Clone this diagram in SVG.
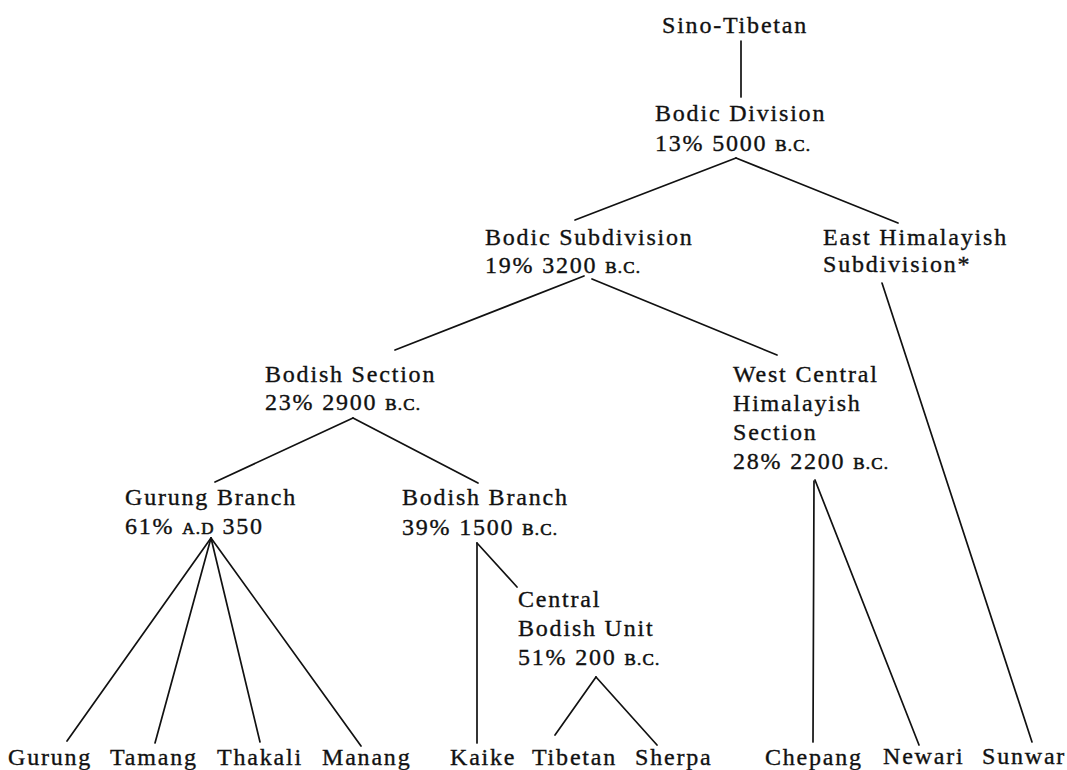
<svg xmlns="http://www.w3.org/2000/svg" width="1067" height="770" viewBox="0 0 1067 770">
<style>
text{font-family:"Liberation Serif","Times New Roman",serif;font-size:24px;letter-spacing:1.8px;fill:#111;stroke:#111;stroke-width:0.35px}
.sc{font-size:17px;letter-spacing:1.2px;stroke-width:0.6px}
.c line{stroke:#111;stroke-width:1.7;fill:none;stroke-linecap:round}
</style>
<rect width="1067" height="770" fill="#fff"/>
<g class="c" id="connectors">
<line x1="741" y1="41" x2="741" y2="97"/>
<line x1="736" y1="158" x2="575" y2="220"/>
<line x1="736" y1="158" x2="898" y2="223"/>
<line x1="584" y1="276" x2="395" y2="350"/>
<line x1="592" y1="279" x2="777" y2="355"/>
<line x1="882" y1="283" x2="1032" y2="742"/>
<line x1="353" y1="418" x2="215" y2="482"/>
<line x1="353" y1="418" x2="478" y2="483"/>
<line x1="814" y1="481" x2="813" y2="742"/>
<line x1="815" y1="480" x2="919" y2="745"/>
<line x1="211" y1="538" x2="67" y2="741"/>
<line x1="211" y1="538" x2="155" y2="743"/>
<line x1="211" y1="538" x2="260" y2="742"/>
<line x1="211" y1="538" x2="361" y2="746"/>
<line x1="477" y1="543" x2="477" y2="743"/>
<line x1="477" y1="543" x2="517" y2="587"/>
<line x1="596" y1="677" x2="555" y2="735"/>
<line x1="596" y1="677" x2="657" y2="745"/>
</g>
<g id="sino-tibetan"><text x="662" y="33">Sino-Tibetan</text></g>
<g id="bodic-division"><text x="655" y="121">Bodic Division</text><text x="655" y="151">13% 5000 <tspan class="sc">B.C.</tspan></text></g>
<g id="bodic-subdivision"><text x="485" y="245">Bodic Subdivision</text><text x="485" y="273">19% 3200 <tspan class="sc">B.C.</tspan></text></g>
<g id="east-himalayish"><text x="823" y="245">East Himalayish</text><text x="823" y="272">Subdivision*</text></g>
<g id="bodish-section"><text x="265" y="382">Bodish Section</text><text x="265" y="410">23% 2900 <tspan class="sc">B.C.</tspan></text></g>
<g id="west-central"><text x="733" y="382">West Central</text><text x="733" y="411">Himalayish</text><text x="733" y="440">Section</text><text x="733" y="469">28% 2200 <tspan class="sc">B.C.</tspan></text></g>
<g id="gurung-branch"><text x="125" y="505">Gurung Branch</text><text x="125" y="534">61% <tspan class="sc">A.D</tspan> 350</text></g>
<g id="bodish-branch"><text x="402" y="505">Bodish Branch</text><text x="402" y="535">39% 1500 <tspan class="sc">B.C.</tspan></text></g>
<g id="central-bodish"><text x="518" y="607">Central</text><text x="518" y="636">Bodish Unit</text><text x="518" y="665">51% 200 <tspan class="sc">B.C.</tspan></text></g>
<g id="gurung"><text x="8" y="765">Gurung</text></g>
<g id="tamang"><text x="110" y="765">Tamang</text></g>
<g id="thakali"><text x="217" y="765">Thakali</text></g>
<g id="manang"><text x="322" y="765">Manang</text></g>
<g id="kaike"><text x="450" y="765">Kaike</text></g>
<g id="tibetan"><text x="532" y="765">Tibetan</text></g>
<g id="sherpa"><text x="635" y="765">Sherpa</text></g>
<g id="chepang"><text x="765" y="765">Chepang</text></g>
<g id="newari"><text x="883" y="764">Newari</text></g>
<g id="sunwar"><text x="982" y="764">Sunwar</text></g>
</svg>
